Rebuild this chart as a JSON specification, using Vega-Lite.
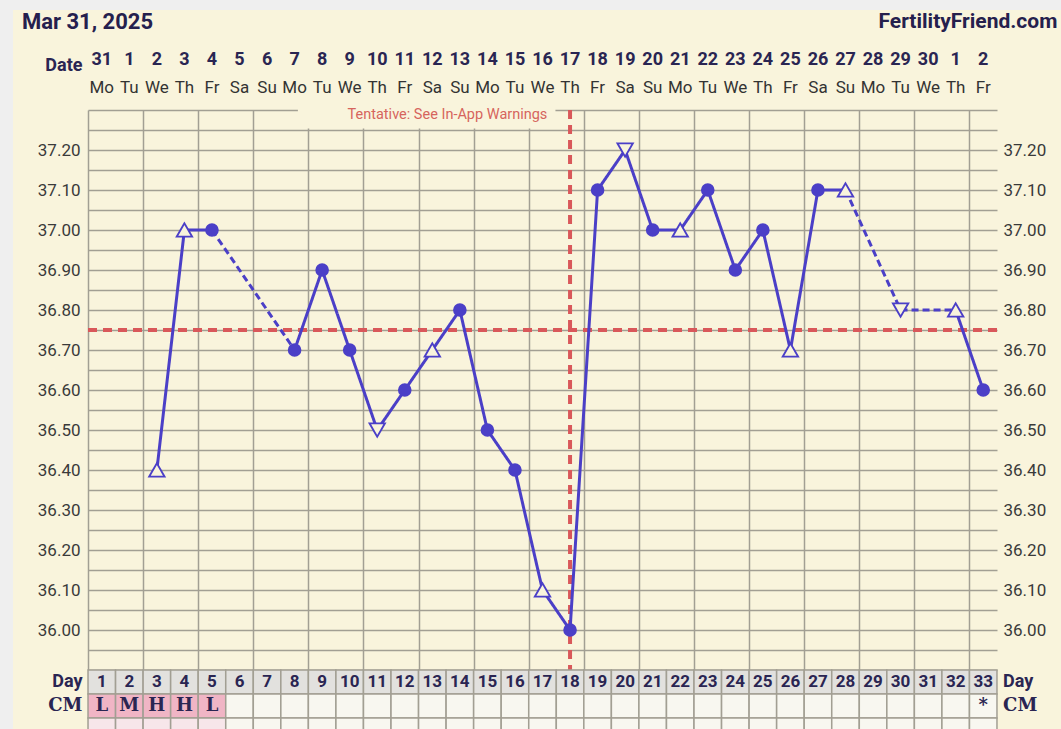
{
  "$schema": "https://vega.github.io/schema/vega-lite/v6.json",
  "width": 909,
  "height": 560,
  "autosize": "none",
  "padding": {"left": 88, "top": 110, "right": 64, "bottom": 59},
  "background": "#f9f4dc",
  "view": {"stroke": null, "fill": "#f9f4dc"},
  "data": {"values": [{}]},
  "config": {
    "font": "Roboto",
    "axis": {"labelFont": "Roboto", "labelFontSize": 17, "labelColor": "#3a3a3a", "gridColor": "#a29f93", "gridWidth": 1.5, "gridOpacity": 1, "ticks": false, "domain": false, "title": null}
  },
  "datasets": {
    "temps": [
      {"day": 3, "temp": 36.4, "mk": "up"},
      {"day": 4, "temp": 37.0, "mk": "up"},
      {"day": 5, "temp": 37.0, "mk": "o"},
      {"day": 8, "temp": 36.7, "mk": "o"},
      {"day": 9, "temp": 36.9, "mk": "o"},
      {"day": 10, "temp": 36.7, "mk": "o"},
      {"day": 11, "temp": 36.5, "mk": "down"},
      {"day": 12, "temp": 36.6, "mk": "o"},
      {"day": 13, "temp": 36.7, "mk": "up"},
      {"day": 14, "temp": 36.8, "mk": "o"},
      {"day": 15, "temp": 36.5, "mk": "o"},
      {"day": 16, "temp": 36.4, "mk": "o"},
      {"day": 17, "temp": 36.1, "mk": "up"},
      {"day": 18, "temp": 36.0, "mk": "o"},
      {"day": 19, "temp": 37.1, "mk": "o"},
      {"day": 20, "temp": 37.2, "mk": "down"},
      {"day": 21, "temp": 37.0, "mk": "o"},
      {"day": 22, "temp": 37.0, "mk": "up"},
      {"day": 23, "temp": 37.1, "mk": "o"},
      {"day": 24, "temp": 36.9, "mk": "o"},
      {"day": 25, "temp": 37.0, "mk": "o"},
      {"day": 26, "temp": 36.7, "mk": "up"},
      {"day": 27, "temp": 37.1, "mk": "o"},
      {"day": 28, "temp": 37.1, "mk": "up"},
      {"day": 30, "temp": 36.8, "mk": "down"},
      {"day": 32, "temp": 36.8, "mk": "up"},
      {"day": 33, "temp": 36.6, "mk": "o"}
    ],
    "segs": [
      {"seg": "A", "style": "solid", "day": 3, "temp": 36.4},
      {"seg": "A", "style": "solid", "day": 4, "temp": 37.0},
      {"seg": "A", "style": "solid", "day": 5, "temp": 37.0},
      {"seg": "B", "style": "dashed", "day": 5, "temp": 37.0},
      {"seg": "B", "style": "dashed", "day": 8, "temp": 36.7},
      {"seg": "C", "style": "solid", "day": 8, "temp": 36.7},
      {"seg": "C", "style": "solid", "day": 9, "temp": 36.9},
      {"seg": "C", "style": "solid", "day": 10, "temp": 36.7},
      {"seg": "C", "style": "solid", "day": 11, "temp": 36.5},
      {"seg": "C", "style": "solid", "day": 12, "temp": 36.6},
      {"seg": "C", "style": "solid", "day": 13, "temp": 36.7},
      {"seg": "C", "style": "solid", "day": 14, "temp": 36.8},
      {"seg": "C", "style": "solid", "day": 15, "temp": 36.5},
      {"seg": "C", "style": "solid", "day": 16, "temp": 36.4},
      {"seg": "C", "style": "solid", "day": 17, "temp": 36.1},
      {"seg": "C", "style": "solid", "day": 18, "temp": 36.0},
      {"seg": "C", "style": "solid", "day": 19, "temp": 37.1},
      {"seg": "C", "style": "solid", "day": 20, "temp": 37.2},
      {"seg": "C", "style": "solid", "day": 21, "temp": 37.0},
      {"seg": "C", "style": "solid", "day": 22, "temp": 37.0},
      {"seg": "C", "style": "solid", "day": 23, "temp": 37.1},
      {"seg": "C", "style": "solid", "day": 24, "temp": 36.9},
      {"seg": "C", "style": "solid", "day": 25, "temp": 37.0},
      {"seg": "C", "style": "solid", "day": 26, "temp": 36.7},
      {"seg": "C", "style": "solid", "day": 27, "temp": 37.1},
      {"seg": "C", "style": "solid", "day": 28, "temp": 37.1},
      {"seg": "D", "style": "dashed", "day": 28, "temp": 37.1},
      {"seg": "D", "style": "dashed", "day": 30, "temp": 36.8},
      {"seg": "D", "style": "dashed", "day": 32, "temp": 36.8},
      {"seg": "E", "style": "solid", "day": 32, "temp": 36.8},
      {"seg": "E", "style": "solid", "day": 33, "temp": 36.6}
    ],
    "dates": [
      {"day": 1, "date": "31", "dow": "Mo", "cm": "L"},
      {"day": 2, "date": "1", "dow": "Tu", "cm": "M"},
      {"day": 3, "date": "2", "dow": "We", "cm": "H"},
      {"day": 4, "date": "3", "dow": "Th", "cm": "H"},
      {"day": 5, "date": "4", "dow": "Fr", "cm": "L"},
      {"day": 6, "date": "5", "dow": "Sa", "cm": ""},
      {"day": 7, "date": "6", "dow": "Su", "cm": ""},
      {"day": 8, "date": "7", "dow": "Mo", "cm": ""},
      {"day": 9, "date": "8", "dow": "Tu", "cm": ""},
      {"day": 10, "date": "9", "dow": "We", "cm": ""},
      {"day": 11, "date": "10", "dow": "Th", "cm": ""},
      {"day": 12, "date": "11", "dow": "Fr", "cm": ""},
      {"day": 13, "date": "12", "dow": "Sa", "cm": ""},
      {"day": 14, "date": "13", "dow": "Su", "cm": ""},
      {"day": 15, "date": "14", "dow": "Mo", "cm": ""},
      {"day": 16, "date": "15", "dow": "Tu", "cm": ""},
      {"day": 17, "date": "16", "dow": "We", "cm": ""},
      {"day": 18, "date": "17", "dow": "Th", "cm": ""},
      {"day": 19, "date": "18", "dow": "Fr", "cm": ""},
      {"day": 20, "date": "19", "dow": "Sa", "cm": ""},
      {"day": 21, "date": "20", "dow": "Su", "cm": ""},
      {"day": 22, "date": "21", "dow": "Mo", "cm": ""},
      {"day": 23, "date": "22", "dow": "Tu", "cm": ""},
      {"day": 24, "date": "23", "dow": "We", "cm": ""},
      {"day": 25, "date": "24", "dow": "Th", "cm": ""},
      {"day": 26, "date": "25", "dow": "Fr", "cm": ""},
      {"day": 27, "date": "26", "dow": "Sa", "cm": ""},
      {"day": 28, "date": "27", "dow": "Su", "cm": ""},
      {"day": 29, "date": "28", "dow": "Mo", "cm": ""},
      {"day": 30, "date": "29", "dow": "Tu", "cm": ""},
      {"day": 31, "date": "30", "dow": "We", "cm": ""},
      {"day": 32, "date": "1", "dow": "Th", "cm": ""},
      {"day": 33, "date": "2", "dow": "Fr", "cm": "*"}
    ]
  },
  "resolve": {"axis": {"y": "independent"}},
  "layer": [
    {
      "data": {"name": "temps"},
      "mark": {"type": "point", "opacity": 0},
      "encoding": {
        "x": {"field": "day", "type": "quantitative", "scale": {"domain": [0.5, 33.5], "nice": false, "zero": false, "padding": 0},
          "axis": {"grid": true, "labels": false, "values": [0.5,1.5,2.5,3.5,4.5,5.5,6.5,7.5,8.5,9.5,10.5,11.5,12.5,13.5,14.5,15.5,16.5,17.5,18.5,19.5,20.5,21.5,22.5,23.5,24.5,25.5,26.5,27.5,28.5,29.5,30.5,31.5,32.5,33.5]}},
        "y": {"field": "temp", "type": "quantitative", "scale": {"domain": [35.9, 37.3], "nice": false, "zero": false, "padding": 0},
          "axis": {"orient": "left", "grid": true, "labelPadding": 8,
            "values": [35.9,35.95,36.0,36.05,36.1,36.15,36.2,36.25,36.3,36.35,36.4,36.45,36.5,36.55,36.6,36.65,36.7,36.75,36.8,36.85,36.9,36.95,37.0,37.05,37.1,37.15,37.2,37.25,37.3],
            "labelExpr": "(round(datum.value*100) % 10 == 0 && datum.value > 35.99 && datum.value < 37.21) ? format(datum.value, '.2f') : ''"}}
      }
    },
    {
      "data": {"name": "temps"},
      "mark": {"type": "point", "opacity": 0},
      "encoding": {
        "x": {"field": "day", "type": "quantitative"},
        "y": {"field": "temp", "type": "quantitative",
          "axis": {"orient": "right", "grid": false, "labelPadding": 6,
            "values": [36.0,36.1,36.2,36.3,36.4,36.5,36.6,36.7,36.8,36.9,37.0,37.1,37.2],
            "format": ".2f"}}
      }
    },
    {
      "mark": {"type": "rect", "color": "#efefef"},
      "encoding": {
        "x": {"datum": -5}, "x2": {"datum": 40},
        "y": {"datum": 37.6, "axis": null}, "y2": {"datum": 37.55}
      }
    },
    {
      "mark": {"type": "rect", "color": "#efefef"},
      "encoding": {
        "x": {"datum": -2.7}, "x2": {"datum": -2.223},
        "y": {"datum": 37.6, "axis": null}, "y2": {"datum": 34.0}
      }
    },
    {
      "mark": {"type": "rect", "color": "#f9f4dc"},
      "encoding": {
        "x": {"datum": 8.12}, "x2": {"datum": 17.47},
        "y": {"datum": 37.35, "axis": null}, "y2": {"datum": 37.2535}
      }
    },
    {
      "mark": {"type": "text", "color": "#d6645d", "fontSize": 14.5, "font": "Roboto", "align": "center", "baseline": "middle"},
      "encoding": {
        "x": {"datum": 13.55},
        "y": {"datum": 37.2875, "axis": null},
        "text": {"value": "Tentative: See In-App Warnings"}
      }
    },
    {
      "mark": {"type": "rule", "color": "#d9585a", "strokeWidth": 4, "strokeDash": [9, 6]},
      "encoding": {
        "x": {"datum": 0.5}, "x2": {"datum": 33.5},
        "y": {"datum": 36.75, "axis": null}
      }
    },
    {
      "mark": {"type": "rule", "color": "#d9585a", "strokeWidth": 4, "strokeDash": [9, 6]},
      "encoding": {
        "x": {"datum": 18},
        "y": {"datum": 37.3, "axis": null}, "y2": {"datum": 35.9}
      }
    },
    {
      "data": {"name": "segs"},
      "mark": {"type": "line", "color": "#4b3fc7", "strokeWidth": 3},
      "encoding": {
        "x": {"field": "day", "type": "quantitative"},
        "y": {"field": "temp", "type": "quantitative", "axis": null},
        "detail": {"field": "seg"},
        "strokeDash": {"field": "style", "type": "nominal", "scale": {"domain": ["solid", "dashed"], "range": [[1, 0], [7, 4]]}, "legend": null}
      }
    },
    {
      "data": {"name": "temps"},
      "transform": [{"filter": "datum.mk == 'o'"}],
      "mark": {"type": "point", "shape": "circle", "filled": true, "color": "#4b3fc7", "size": 185, "opacity": 1},
      "encoding": {
        "x": {"field": "day", "type": "quantitative"},
        "y": {"field": "temp", "type": "quantitative", "axis": null}
      }
    },
    {
      "data": {"name": "temps"},
      "transform": [{"filter": "datum.mk != 'o'"}],
      "mark": {"type": "point", "filled": true, "fill": "#f9f4dc", "stroke": "#4b3fc7", "strokeWidth": 1.8, "size": 240, "opacity": 1},
      "encoding": {
        "x": {"field": "day", "type": "quantitative"},
        "y": {"field": "temp", "type": "quantitative", "axis": null},
        "shape": {"field": "mk", "type": "nominal", "scale": {"domain": ["up", "down"], "range": ["triangle-up", "triangle-down"]}, "legend": null}
      }
    },
    {
      "data": {"name": "dates"},
      "mark": {"type": "text", "font": "Roboto", "fontWeight": "bold", "fontSize": 18, "color": "#2a2552", "align": "center", "baseline": "middle"},
      "encoding": {
        "x": {"field": "day", "type": "quantitative"},
        "y": {"datum": 37.425, "axis": null},
        "text": {"field": "date"}
      }
    },
    {
      "data": {"name": "dates"},
      "mark": {"type": "text", "font": "Roboto", "fontSize": 17, "color": "#333333", "align": "center", "baseline": "middle"},
      "encoding": {
        "x": {"field": "day", "type": "quantitative"},
        "y": {"datum": 37.355, "axis": null},
        "text": {"field": "dow"}
      }
    },
    {
      "mark": {"type": "text", "font": "Roboto", "fontWeight": "bold", "fontSize": 18, "color": "#2a2552", "align": "right", "baseline": "middle"},
      "encoding": {
        "x": {"datum": 0.3},
        "y": {"datum": 37.41, "axis": null},
        "text": {"value": "Date"}
      }
    },
    {
      "mark": {"type": "text", "font": "Roboto", "fontWeight": "bold", "fontSize": 22, "color": "#25204d", "align": "left", "baseline": "middle"},
      "encoding": {
        "x": {"datum": -1.9},
        "y": {"datum": 37.52, "axis": null},
        "text": {"value": "Mar 31, 2025"}
      }
    },
    {
      "mark": {"type": "text", "font": "Roboto", "fontWeight": "bold", "fontSize": 21, "color": "#25204d", "align": "right", "baseline": "middle", "letterSpacing": -0.6},
      "encoding": {
        "x": {"datum": 35.69},
        "y": {"datum": 37.52, "axis": null},
        "text": {"value": "FertilityFriend.com"}
      }
    },
    {
      "data": {"name": "dates"},
      "mark": {"type": "bar", "width": 27.5, "fill": "#e2e1de", "stroke": "#a29f93", "strokeWidth": 1.5},
      "encoding": {
        "x": {"field": "day", "type": "quantitative"},
        "y": {"datum": 35.9, "axis": null}, "y2": {"datum": 35.84}
      }
    },
    {
      "data": {"name": "dates"},
      "mark": {"type": "bar", "width": 27.5, "stroke": "#a29f93", "strokeWidth": 1.5},
      "encoding": {
        "x": {"field": "day", "type": "quantitative"},
        "y": {"datum": 35.84, "axis": null}, "y2": {"datum": 35.78},
        "fill": {"condition": {"test": "datum.day <= 5", "value": "#f0b5c5"}, "value": "#f8f7f0"}
      }
    },
    {
      "data": {"name": "dates"},
      "mark": {"type": "bar", "width": 27.5, "stroke": "#a29f93", "strokeWidth": 1.5},
      "encoding": {
        "x": {"field": "day", "type": "quantitative"},
        "y": {"datum": 35.78, "axis": null}, "y2": {"datum": 35.7},
        "fill": {"condition": {"test": "datum.day <= 5", "value": "#f7e6ea"}, "value": "#f8f7f0"}
      }
    },
    {
      "data": {"name": "dates"},
      "mark": {"type": "text", "font": "Roboto", "fontWeight": "bold", "fontSize": 17, "color": "#2a2552", "align": "center", "baseline": "middle"},
      "encoding": {
        "x": {"field": "day", "type": "quantitative"},
        "y": {"datum": 35.869, "axis": null},
        "text": {"field": "day"}
      }
    },
    {
      "data": {"name": "dates"},
      "mark": {"type": "text", "font": "DejaVu Serif", "fontWeight": "bold", "fontSize": 18, "color": "#2a2552", "align": "center", "baseline": "middle"},
      "encoding": {
        "x": {"field": "day", "type": "quantitative"},
        "y": {"datum": 35.809, "axis": null},
        "text": {"field": "cm"}
      }
    },
    {
      "mark": {"type": "text", "font": "Roboto", "fontWeight": "bold", "fontSize": 18, "color": "#2a2552", "align": "right", "baseline": "middle"},
      "encoding": {
        "x": {"datum": 0.3},
        "y": {"datum": 35.869, "axis": null},
        "text": {"value": "Day"}
      }
    },
    {
      "mark": {"type": "text", "font": "Roboto", "fontWeight": "bold", "fontSize": 18, "color": "#2a2552", "align": "left", "baseline": "middle"},
      "encoding": {
        "x": {"datum": 33.72},
        "y": {"datum": 35.869, "axis": null},
        "text": {"value": "Day"}
      }
    },
    {
      "mark": {"type": "text", "font": "DejaVu Serif", "fontWeight": "bold", "fontSize": 18, "color": "#2a2552", "align": "right", "baseline": "middle", "letterSpacing": -1},
      "encoding": {
        "x": {"datum": 0.3},
        "y": {"datum": 35.809, "axis": null},
        "text": {"value": "CM"}
      }
    },
    {
      "mark": {"type": "text", "font": "DejaVu Serif", "fontWeight": "bold", "fontSize": 18, "color": "#2a2552", "align": "left", "baseline": "middle", "letterSpacing": -1},
      "encoding": {
        "x": {"datum": 33.72},
        "y": {"datum": 35.809, "axis": null},
        "text": {"value": "CM"}
      }
    }
  ]
}
